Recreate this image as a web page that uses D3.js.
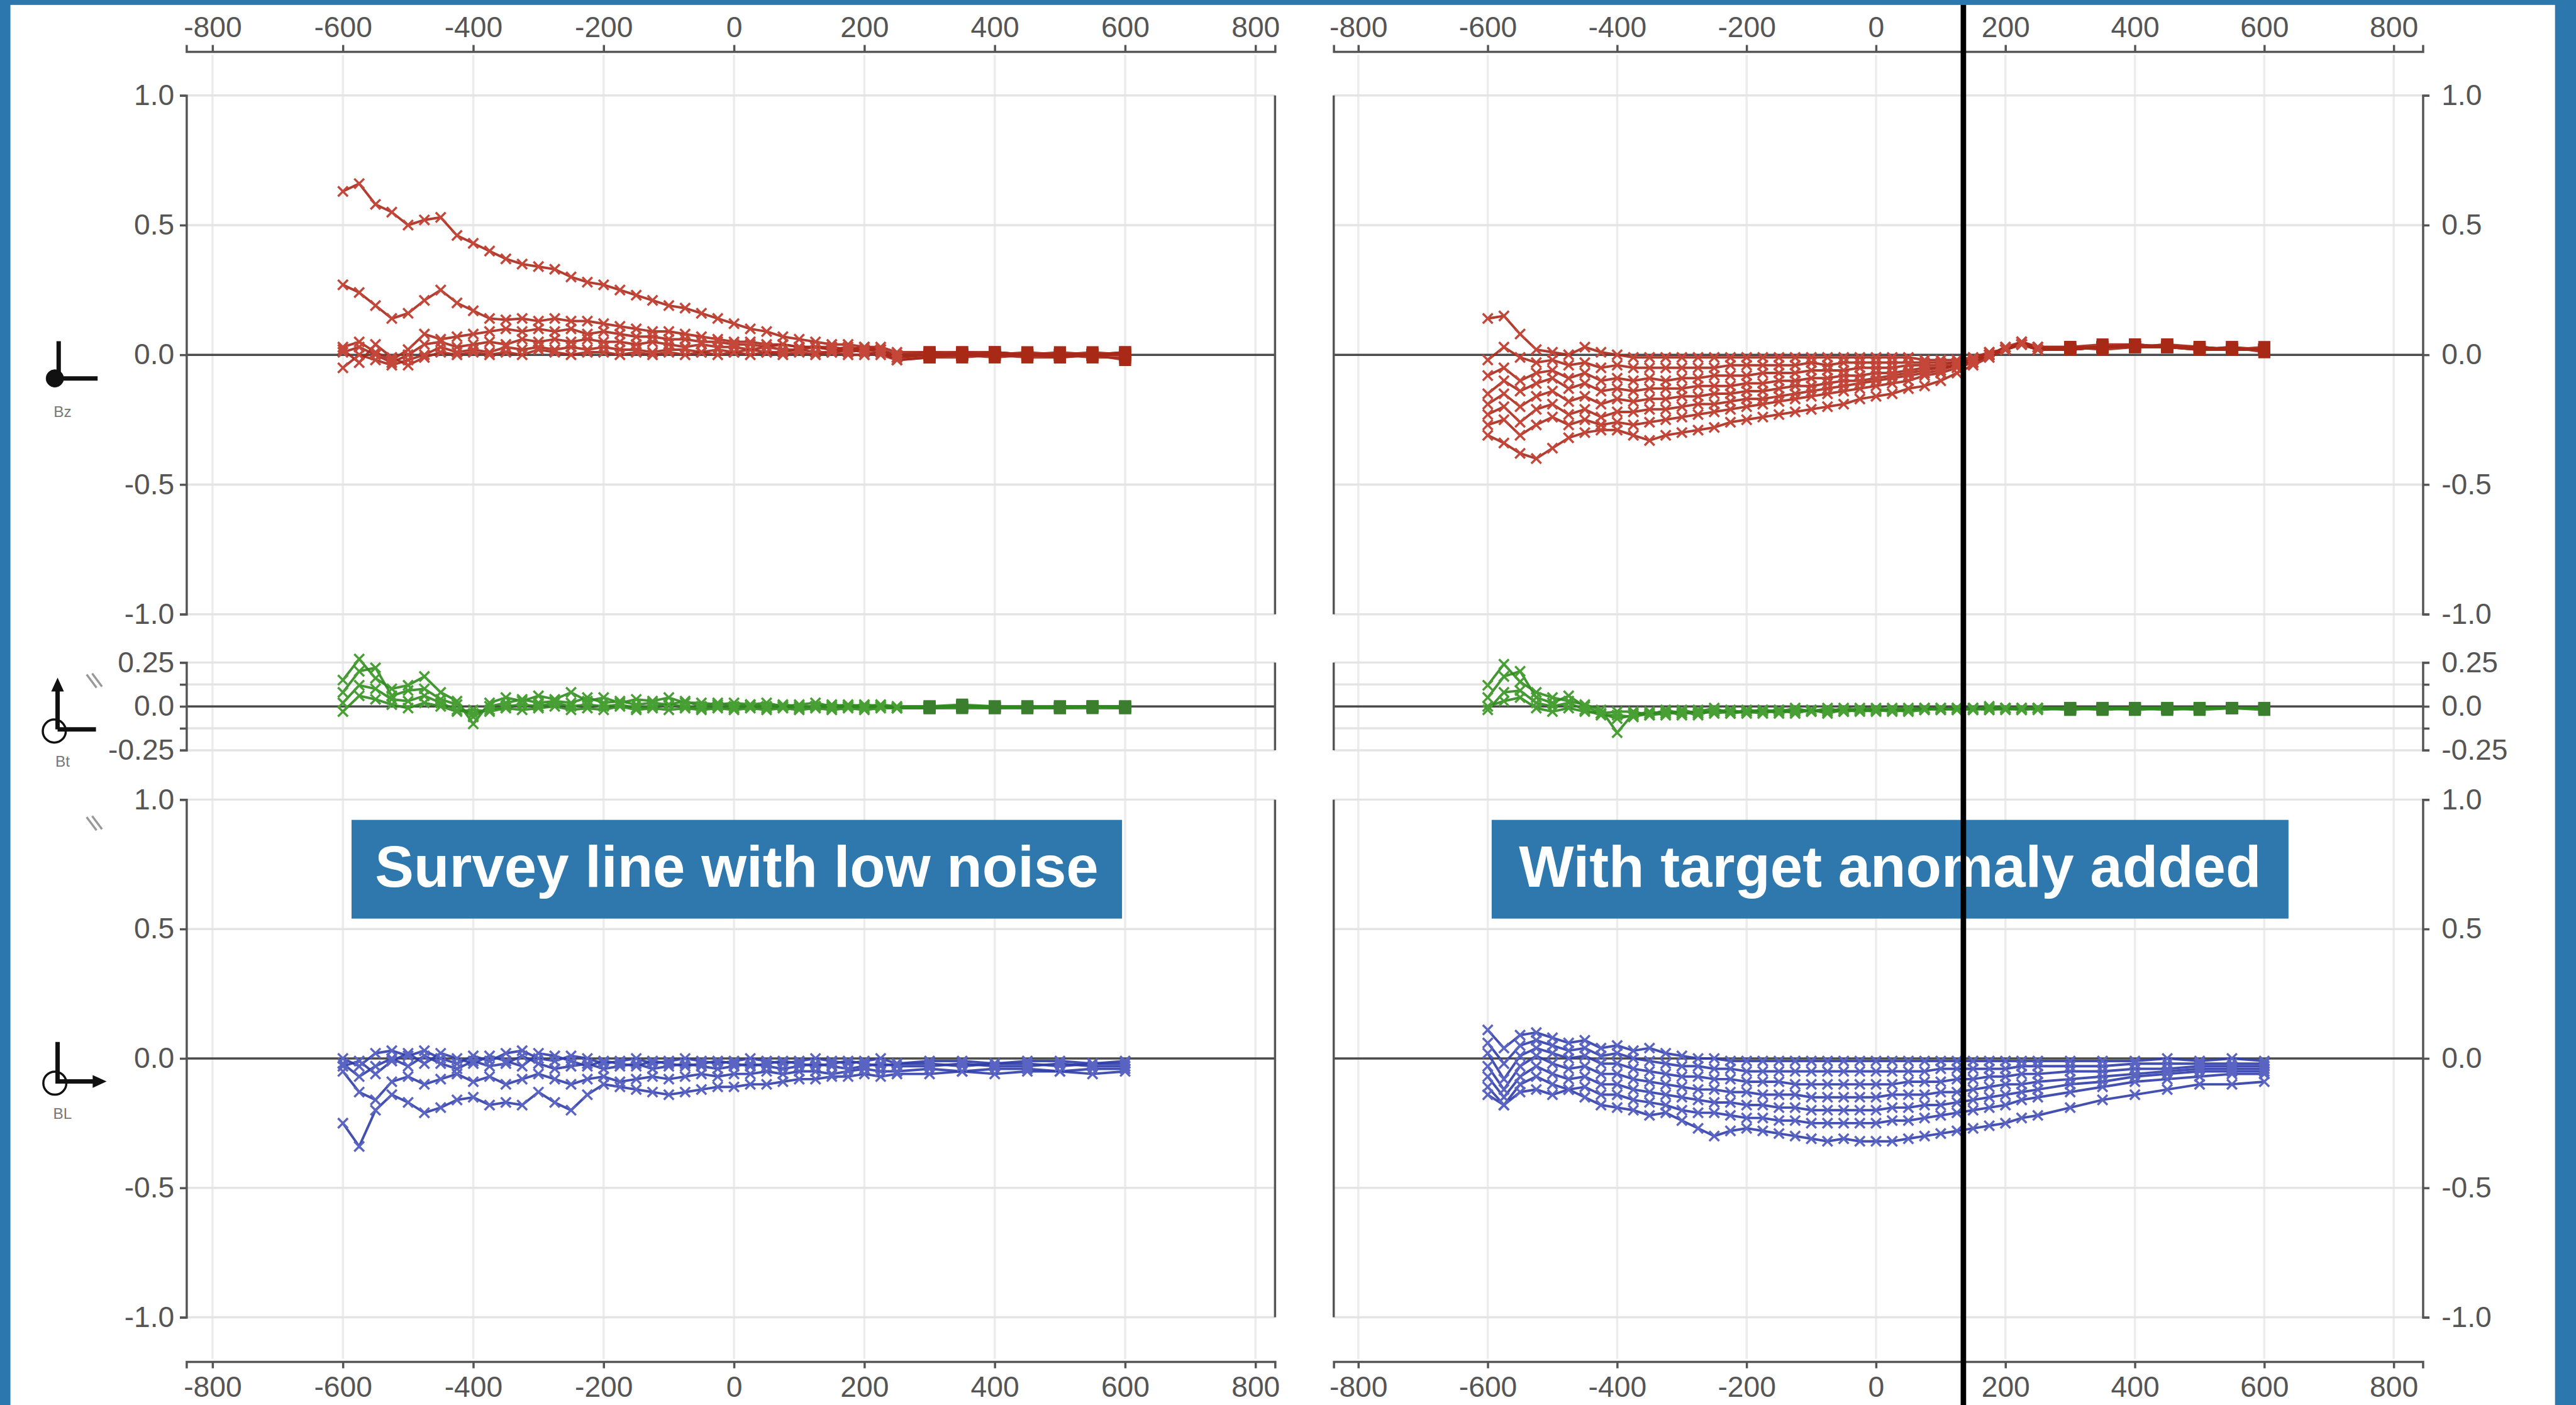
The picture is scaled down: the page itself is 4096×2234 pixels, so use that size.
<!DOCTYPE html>
<html>
<head>
<meta charset="utf-8">
<script src="https://cdnjs.cloudflare.com/ajax/libs/d3/7.8.5/d3.min.js"></script>
<style>
  body { margin: 0; background: #2c78ae; }
  svg { display: block; }
</style>
</head>
<body>
<svg id="chart"></svg>
<script>
// Station positions along the survey line (m)
const stations = [-600,-575,-550,-525,-500,-475,-450, -425,-400,-375,-350,-325,-300,-275,
  -250,-225,-200,-175,-150,-125,-100, -75,-50,-25,0,25,50,75,
  100,125,150,175,200,225,250, 300,350,400,450,500,550,600];

const xTicks = [-800, -600, -400, -200, 0, 200, 400, 600, 800];
const fieldTicks = [-1, -0.5, 0, 0.5, 1];
const tiltTicks = [-0.25, 0, 0.25];
const tiltMinorTicks = [-0.125, 0.125];

// Bz, survey line with low noise
const bzSurvey = [
  [0.63,0.66,0.58,0.55,0.50,0.52,0.53, 0.46,0.43,0.40,0.37,0.35,0.34,0.33, 0.30,0.28,0.27,0.25,0.23,0.21,0.19, 0.18,0.16,0.14,0.12,0.10,0.09,0.07, 0.06,0.05,0.04,0.04,0.03,0.03,0.01, 0.01,0.01,0.01,0.00,0.01,0.00,0.01],
  [0.27,0.24,0.19,0.14,0.16,0.21,0.25, 0.20,0.17,0.14,0.135,0.14,0.13,0.14, 0.13,0.13,0.12,0.11,0.10,0.09,0.09, 0.08,0.07,0.06,0.05,0.05,0.04,0.04, 0.03,0.03,0.03,0.02,0.03,0.02,0.00, 0.01,0.00,0.01,0.00,0.00,0.01,0.00],
  [0.03,0.05,0.01,-0.02,0.02,0.08,0.06, 0.07,0.08,0.09,0.10,0.09,0.10,0.09, 0.10,0.08,0.09,0.08,0.07,0.07,0.06, 0.06,0.05,0.05,0.04,0.04,0.03,0.04, 0.03,0.03,0.02,0.03,0.02,0.02,-0.01, 0.00,0.01,0.00,0.01,0.00,0.00,0.01],
  [0.01,0.03,0.00,-0.03,0.00,0.04,0.05, 0.03,0.04,0.05,0.04,0.06,0.05,0.06, 0.05,0.06,0.05,0.05,0.04,0.05,0.04, 0.03,0.04,0.03,0.03,0.02,0.03,0.02, 0.02,0.03,0.02,0.01,0.02,0.01,-0.01, 0.00,0.00,0.01,0.00,-0.01,0.00,0.00],
  [-0.05,0.00,-0.02,-0.04,-0.02,0.00,0.03, 0.01,0.02,0.01,0.03,0.02,0.03,0.02, 0.03,0.02,0.03,0.02,0.02,0.01,0.02, 0.02,0.01,0.02,0.01,0.02,0.01,0.01, 0.02,0.01,0.01,0.02,0.01,0.00,-0.02, -0.01,0.00,-0.01,0.00,0.00,-0.01,-0.01],
  [0.02,-0.03,0.04,-0.01,-0.04,-0.01,0.01, 0.00,0.01,0.00,0.01,0.00,0.02,0.01, 0.00,0.01,0.01,0.00,0.01,0.00,0.01, 0.00,0.01,0.00,0.01,0.00,0.01,0.00, 0.01,0.00,0.01,0.00,0.00,0.01,-0.02, -0.01,-0.01,0.00,-0.01,-0.01,0.00,-0.02]
];

// Bz, with target anomaly added
const bzTarget = [
  [0.14,0.15,0.08,0.02,0.01,0.00,0.03, 0.01,0.00,-0.01,-0.01,-0.01,-0.01,-0.01, -0.01,-0.01,-0.01,-0.01,-0.01,-0.01,-0.01, -0.01,-0.01,-0.01,-0.01,-0.01,-0.01,-0.02, -0.02,-0.02,-0.01,0.01,0.02,0.04,0.02, 0.02,0.03,0.04,0.03,0.03,0.02,0.02],
  [-0.02,0.03,-0.01,-0.03,-0.02,-0.04,-0.03, -0.05,-0.04,-0.05,-0.05,-0.05,-0.05,-0.05, -0.05,-0.04,-0.04,-0.04,-0.04,-0.04,-0.03, -0.04,-0.03,-0.03,-0.03,-0.03,-0.03,-0.03, -0.03,-0.03,-0.02,0.00,0.03,0.05,0.02, 0.03,0.02,0.03,0.04,0.02,0.03,0.01],
  [-0.08,-0.05,-0.10,-0.07,-0.06,-0.09,-0.07, -0.10,-0.09,-0.10,-0.09,-0.10,-0.09,-0.09, -0.08,-0.08,-0.08,-0.07,-0.07,-0.07,-0.06, -0.06,-0.06,-0.05,-0.05,-0.05,-0.04,-0.04, -0.04,-0.03,-0.02,0.01,0.02,0.04,0.03, 0.02,0.03,0.03,0.03,0.03,0.02,0.02],
  [-0.15,-0.10,-0.14,-0.11,-0.09,-0.13,-0.11, -0.14,-0.13,-0.14,-0.13,-0.13,-0.13,-0.12, -0.12,-0.12,-0.11,-0.11,-0.10,-0.10,-0.09, -0.09,-0.08,-0.08,-0.07,-0.07,-0.06,-0.05, -0.05,-0.04,-0.02,0.00,0.02,0.05,0.03, 0.03,0.04,0.04,0.03,0.02,0.03,0.02],
  [-0.19,-0.15,-0.20,-0.16,-0.14,-0.18,-0.16, -0.19,-0.17,-0.18,-0.17,-0.17,-0.16,-0.16, -0.15,-0.15,-0.14,-0.14,-0.13,-0.12,-0.12, -0.11,-0.10,-0.10,-0.09,-0.08,-0.07,-0.06, -0.05,-0.04,-0.03,0.00,0.03,0.04,0.02, 0.02,0.03,0.03,0.04,0.03,0.02,0.03],
  [-0.23,-0.20,-0.26,-0.21,-0.19,-0.23,-0.21, -0.24,-0.22,-0.22,-0.21,-0.21,-0.20,-0.19, -0.19,-0.18,-0.17,-0.17,-0.16,-0.15,-0.14, -0.13,-0.12,-0.11,-0.10,-0.09,-0.08,-0.07, -0.06,-0.04,-0.03,0.00,0.02,0.05,0.03, 0.03,0.03,0.04,0.03,0.03,0.02,0.02],
  [-0.27,-0.25,-0.31,-0.27,-0.24,-0.27,-0.25, -0.27,-0.26,-0.27,-0.26,-0.25,-0.24,-0.23, -0.22,-0.21,-0.20,-0.19,-0.18,-0.17,-0.16, -0.15,-0.14,-0.13,-0.12,-0.11,-0.10,-0.08, -0.07,-0.05,-0.03,0.00,0.02,0.04,0.02, 0.02,0.03,0.03,0.03,0.02,0.02,0.02],
  [-0.31,-0.34,-0.38,-0.40,-0.36,-0.32,-0.30, -0.29,-0.29,-0.31,-0.33,-0.31,-0.30,-0.29, -0.28,-0.26,-0.25,-0.24,-0.23,-0.22,-0.21, -0.20,-0.19,-0.17,-0.16,-0.15,-0.13,-0.12, -0.10,-0.07,-0.04,-0.01,0.02,0.04,0.02, 0.02,0.03,0.03,0.03,0.02,0.02,0.02]
];

// Bt (tilt), survey line
const btSurvey = [
  [0.15,0.27,0.16,0.10,0.12,0.17,0.08, 0.03,-0.10,0.02,0.05,0.03,0.06,0.04, 0.08,0.03,0.05,0.02,0.04,0.03,0.05, 0.02,0.02,0.01,0.02,0.01,0.02,0.00, 0.01,0.02,0.00,0.01,0.00,0.01,0.00, 0.00,0.01,0.00,0.00,0.00,0.00,0.00],
  [0.08,0.20,0.22,0.06,0.09,0.10,0.04, 0.01,-0.06,0.00,0.02,0.04,0.02,0.03, 0.02,0.05,0.02,0.03,0.01,0.02,0.01, 0.03,0.00,0.02,0.00,0.01,0.00,0.01, 0.00,0.00,0.01,0.00,0.01,0.00,-0.01, 0.00,0.00,0.00,-0.01,0.00,0.00,-0.01],
  [0.02,0.12,0.10,0.04,0.03,0.06,0.02, -0.02,-0.04,-0.02,0.00,0.01,0.00,0.02, 0.00,0.01,0.00,0.01,-0.01,0.00,0.01, 0.00,-0.01,0.00,-0.01,0.00,-0.01,0.00, -0.01,0.00,-0.01,0.00,-0.01,0.00,-0.01, -0.01,0.00,-0.01,0.00,-0.01,0.00,0.00],
  [-0.03,0.06,0.04,0.01,-0.01,0.02,0.00, -0.03,-0.02,-0.03,-0.01,-0.02,-0.01,0.00, -0.02,-0.01,-0.02,0.00,-0.02,-0.01,-0.02, -0.01,-0.02,-0.01,-0.02,-0.01,-0.02,-0.01, -0.02,-0.01,-0.02,-0.01,-0.02,-0.01,-0.01, -0.01,-0.01,-0.01,-0.01,-0.01,-0.01,-0.01]
];

// Bt, with target
const btTarget = [
  [0.12,0.24,0.14,0.08,0.05,0.03,0.01, -0.02,-0.15,-0.04,-0.05,-0.02,-0.04,-0.03, -0.01,-0.04,-0.02,-0.03,-0.02,-0.04,-0.02, -0.03,-0.01,-0.02,-0.03,-0.01,-0.02,-0.01, -0.02,-0.01,-0.02,0.00,-0.01,-0.02,-0.01, -0.02,-0.01,-0.01,-0.01,-0.01,-0.01,-0.01],
  [0.05,0.17,0.20,0.05,0.02,0.06,0.00, -0.04,-0.07,-0.05,-0.03,-0.05,-0.02,-0.04, -0.03,-0.02,-0.04,-0.02,-0.03,-0.01,-0.03, -0.02,-0.03,-0.01,-0.02,-0.02,-0.01,-0.02, -0.01,-0.02,-0.01,-0.02,-0.01,-0.01,-0.02, -0.01,-0.01,-0.02,-0.01,-0.01,-0.01,-0.02],
  [-0.02,0.08,0.09,0.02,0.00,0.02,-0.02, -0.05,-0.05,-0.06,-0.04,-0.03,-0.05,-0.02, -0.04,-0.03,-0.03,-0.04,-0.02,-0.03,-0.02, -0.04,-0.02,-0.03,-0.02,-0.03,-0.02,-0.01, -0.02,-0.01,-0.02,-0.01,-0.02,-0.01,-0.01, -0.01,-0.02,-0.01,-0.01,-0.02,-0.01,-0.01],
  [0.00,0.03,0.05,-0.01,-0.03,-0.01,-0.03, -0.04,-0.03,-0.03,-0.05,-0.04,-0.03,-0.05, -0.02,-0.04,-0.03,-0.02,-0.04,-0.02,-0.03, -0.01,-0.03,-0.02,-0.01,-0.02,-0.03,-0.02, -0.01,-0.02,-0.01,-0.02,-0.01,-0.02,-0.01, -0.01,-0.01,-0.01,-0.02,-0.01,-0.01,-0.01]
];

// BL (in-line), survey line
const blSurvey = [
  [-0.25,-0.34,-0.20,-0.14,-0.17,-0.21,-0.19, -0.16,-0.15,-0.18,-0.17,-0.18,-0.13,-0.17, -0.20,-0.14,-0.10,-0.11,-0.12,-0.13,-0.14, -0.13,-0.12,-0.11,-0.11,-0.10,-0.10,-0.09, -0.08,-0.08,-0.07,-0.07,-0.06,-0.07,-0.06, -0.06,-0.05,-0.06,-0.05,-0.05,-0.06,-0.05],
  [-0.05,-0.13,-0.16,-0.09,-0.07,-0.10,-0.08, -0.06,-0.09,-0.07,-0.10,-0.08,-0.06,-0.08, -0.10,-0.08,-0.07,-0.09,-0.08,-0.07,-0.08, -0.07,-0.06,-0.07,-0.06,-0.06,-0.05,-0.06, -0.05,-0.05,-0.06,-0.05,-0.04,-0.05,-0.05, -0.04,-0.05,-0.04,-0.04,-0.05,-0.04,-0.04],
  [-0.02,-0.07,-0.03,0.00,-0.03,0.01,-0.02, -0.04,-0.01,-0.03,-0.02,0.01,-0.02,-0.04, -0.03,-0.02,-0.04,-0.03,-0.02,-0.04,-0.03, -0.02,-0.03,-0.04,-0.03,-0.02,-0.03,-0.04, -0.03,-0.02,-0.03,-0.04,-0.03,-0.02,-0.03, -0.03,-0.02,-0.03,-0.03,-0.02,-0.03,-0.03],
  [0.00,-0.03,0.02,0.03,0.01,0.03,0.00, -0.02,0.01,-0.01,0.02,0.03,0.00,-0.01, 0.01,0.00,-0.02,-0.01,0.00,-0.02,-0.01, 0.00,-0.01,-0.02,-0.01,0.00,-0.01,-0.02, -0.01,0.00,-0.01,-0.02,-0.01,0.00,-0.02, -0.01,-0.01,-0.02,-0.01,-0.01,-0.02,-0.01],
  [-0.03,-0.01,-0.06,-0.01,0.02,-0.02,0.02, 0.00,-0.02,0.01,-0.01,-0.03,0.02,0.01, -0.01,-0.03,-0.01,-0.02,-0.03,-0.01,-0.02, -0.03,-0.02,-0.01,-0.02,-0.03,-0.02,-0.01, -0.02,-0.03,-0.02,-0.01,-0.02,-0.03,-0.02, -0.02,-0.03,-0.02,-0.02,-0.03,-0.02,-0.02]
];

// BL, with target
const blTarget = [
  [0.11,0.04,0.09,0.10,0.08,0.06,0.07, 0.04,0.05,0.03,0.04,0.02,0.01,0.00, 0.00,-0.01,-0.01,-0.01,-0.01,-0.01,-0.01, -0.01,-0.01,-0.01,-0.01,-0.01,-0.01,-0.01, -0.01,-0.01,-0.01,-0.01,-0.01,-0.01,-0.01, -0.01,-0.01,-0.01,0.00,-0.01,0.00,-0.01],
  [0.06,-0.02,0.05,0.07,0.05,0.03,0.04, 0.01,0.02,0.00,-0.01,-0.02,-0.03,-0.03, -0.04,-0.04,-0.05,-0.05,-0.05,-0.05,-0.05, -0.05,-0.05,-0.05,-0.05,-0.05,-0.05,-0.05, -0.04,-0.04,-0.04,-0.04,-0.04,-0.03,-0.03, -0.03,-0.03,-0.02,-0.02,-0.02,-0.02,-0.02],
  [0.02,-0.08,0.01,0.04,0.02,0.00,0.01, -0.02,-0.02,-0.04,-0.05,-0.06,-0.07,-0.07, -0.08,-0.08,-0.09,-0.09,-0.09,-0.10,-0.10, -0.10,-0.10,-0.10,-0.10,-0.10,-0.09,-0.09, -0.09,-0.08,-0.08,-0.07,-0.07,-0.06,-0.06, -0.05,-0.05,-0.04,-0.04,-0.03,-0.03,-0.03],
  [-0.03,-0.12,-0.03,0.01,-0.02,-0.04,-0.03, -0.06,-0.06,-0.08,-0.09,-0.10,-0.11,-0.12, -0.12,-0.13,-0.13,-0.14,-0.14,-0.14,-0.15, -0.15,-0.15,-0.15,-0.15,-0.14,-0.14,-0.14, -0.13,-0.13,-0.12,-0.11,-0.10,-0.10,-0.09, -0.08,-0.07,-0.06,-0.05,-0.04,-0.04,-0.04],
  [-0.07,-0.15,-0.07,-0.03,-0.06,-0.08,-0.07, -0.10,-0.10,-0.12,-0.13,-0.14,-0.15,-0.16, -0.17,-0.17,-0.18,-0.18,-0.19,-0.19,-0.20, -0.20,-0.20,-0.20,-0.20,-0.19,-0.19,-0.18, -0.18,-0.17,-0.16,-0.15,-0.14,-0.13,-0.12, -0.10,-0.09,-0.07,-0.06,-0.05,-0.05,-0.05],
  [-0.11,-0.18,-0.10,-0.07,-0.10,-0.12,-0.11, -0.14,-0.14,-0.16,-0.17,-0.18,-0.20,-0.21, -0.21,-0.22,-0.23,-0.23,-0.24,-0.24,-0.25, -0.25,-0.25,-0.25,-0.25,-0.24,-0.24,-0.23, -0.22,-0.21,-0.20,-0.19,-0.18,-0.16,-0.15, -0.13,-0.11,-0.09,-0.08,-0.07,-0.06,-0.06],
  [-0.14,-0.18,-0.13,-0.12,-0.14,-0.12,-0.15, -0.18,-0.19,-0.20,-0.22,-0.21,-0.24,-0.27, -0.30,-0.28,-0.27,-0.28,-0.29,-0.30,-0.31, -0.32,-0.31,-0.32,-0.32,-0.32,-0.31,-0.30, -0.29,-0.28,-0.27,-0.26,-0.25,-0.23,-0.22, -0.19,-0.16,-0.14,-0.12,-0.10,-0.10,-0.09]
];

const panelTitles = ['Survey line with low noise', 'With target anomaly added'];
const targetStation = 135;

// everything is laid out in reference pixels, then scaled down
const S = 0.872;
const W = 4697, H = 2562;
const FONT = '"Liberation Sans", Arial, Helvetica, sans-serif';

const minus = s => s.replace('\u2212', '-');

class ProfilePanel {

  constructor(_config, _series) {
    this.config = {
      parent: _config.parent,
      xScale: _config.xScale,
      yTop: _config.yTop,
      yBottom: _config.yBottom,
      yDomain: _config.yDomain,
      tickValues: _config.tickValues,
      minorTicks: _config.minorTicks || [],
      gridValues: _config.gridValues,
      axisSide: _config.axisSide,
      tickFormat: _config.tickFormat,
      colours: _config.colours,
      squares: _config.squares
    };
    this.series = _series;
    this.initVis();
  }

  initVis() {
    let vis = this;
    const [x0, x1] = vis.config.xScale.range();

    vis.yScale = d3.scaleLinear()
        .domain(vis.config.yDomain)
        .range([vis.config.yBottom, vis.config.yTop]);

    vis.chart = vis.config.parent.append('g');

    // light horizontal grid
    vis.chart.append('g').selectAll('line')
        .data(vis.config.gridValues)
        .join('line')
        .attr('x1', x0).attr('x2', x1)
        .attr('y1', d => vis.yScale(d)).attr('y2', d => vis.yScale(d))
        .attr('stroke', '#e4e4e4')
        .attr('stroke-width', 4);

    // zero line
    vis.chart.append('line')
        .attr('x1', x0).attr('x2', x1)
        .attr('y1', vis.yScale(0)).attr('y2', vis.yScale(0))
        .attr('stroke', '#4a4a4a')
        .attr('stroke-width', 4);

    // labelled axis on the outer side, plain frame line on the inner side
    const left = vis.config.axisSide === 'left';
    const axisX = left ? x0 : x1;
    const frameX = left ? x1 : x0;

    vis.yAxis = (left ? d3.axisLeft(vis.yScale) : d3.axisRight(vis.yScale))
        .tickValues(vis.config.tickValues)
        .tickFormat(vis.config.tickFormat)
        .tickSize(12)
        .tickSizeOuter(12)
        .tickPadding(left ? 10 : 22);

    vis.yAxisG = vis.chart.append('g')
        .attr('class', 'axis y-axis')
        .attr('transform', `translate(${axisX},0)`)
        .call(vis.yAxis);

    if (vis.config.minorTicks.length) {
      vis.chart.append('g')
          .attr('transform', `translate(${axisX},0)`)
          .call((left ? d3.axisLeft(vis.yScale) : d3.axisRight(vis.yScale))
              .tickValues(vis.config.minorTicks).tickFormat('').tickSize(12).tickSizeOuter(0))
          .call(g => g.select('.domain').remove())
          .attr('color', '#555')
          .selectAll('line').attr('stroke-width', 4);
    }

    styleAxis(vis.yAxisG);

    vis.chart.append('line')
        .attr('x1', frameX).attr('x2', frameX)
        .attr('y1', vis.config.yTop).attr('y2', vis.config.yBottom)
        .attr('stroke', '#555')
        .attr('stroke-width', 4);

    vis.renderVis();
  }

  renderVis() {
    let vis = this;
    const xs = vis.config.xScale;
    const c = vis.config.colours;

    const line = d3.line()
        .x((d, i) => xs(stations[i]))
        .y(d => vis.yScale(d));

    const g = vis.chart.append('g');

    g.selectAll('.trace')
        .data(vis.series)
        .join('path')
        .attr('class', 'trace')
        .attr('d', line)
        .attr('fill', 'none')
        .attr('stroke', c.line)
        .attr('stroke-opacity', 0.9)
        .attr('stroke-width', 4.5);

    const points = vis.series.flatMap(s => s.map((v, i) => ({ x: stations[i], v })));
    const sparse = d => vis.config.squares && d.x > 250;

    g.selectAll('.cross')
        .data(points.filter(d => !sparse(d)))
        .join('path')
        .attr('class', 'cross')
        .attr('transform', d => `translate(${xs(d.x)},${vis.yScale(d.v)})`)
        .attr('d', 'M-9,-9L9,9M-9,9L9,-9')
        .attr('fill', 'none')
        .attr('stroke', c.marker)
        .attr('stroke-width', 4);

    g.selectAll('.square')
        .data(points.filter(sparse))
        .join('rect')
        .attr('class', 'square')
        .attr('x', d => xs(d.x) - 11)
        .attr('y', d => vis.yScale(d.v) - 11)
        .attr('width', 22)
        .attr('height', 22)
        .attr('fill', c.square);
  }
}

function styleAxis(g) {
  g.attr('color', '#555')
      .attr('font-size', 53)
      .attr('font-family', FONT);
  g.selectAll('path, line').attr('stroke-width', 4);
}

const svg = d3.select('#chart')
    .attr('width', 4096)
    .attr('height', 2234);

const root = svg.append('g').attr('transform', `scale(${S})`);

root.append('rect').attr('width', W).attr('height', H).attr('fill', '#2c78ae');
root.append('rect').attr('x', 19).attr('y', 9).attr('width', 4640).attr('height', H - 9).attr('fill', '#fff');

const xLeft = d3.scaleLinear().domain([-840, 830]).range([340, 2325]);
const xRight = d3.scaleLinear().domain([-838, 845]).range([2432, 4418]);

const sides = [
  { x: xLeft, axisSide: 'left', data: [bzSurvey, btSurvey, blSurvey] },
  { x: xRight, axisSide: 'right', data: [bzTarget, btTarget, blTarget] }
];

const components = [
  { yTop: 174, yBottom: 1120, domain: [-1, 1], ticks: fieldTicks, minor: [], grid: [-1, -0.5, 0.5, 1],
    format: d => minus(d3.format('.1f')(d)),
    colours: { line: '#a8281a', marker: '#c4473a', square: '#a82a16' }, squares: true },
  { yTop: 1208, yBottom: 1368, domain: [-0.25, 0.25], ticks: tiltTicks, minor: tiltMinorTicks,
    grid: [-0.25, -0.125, 0.125, 0.25],
    format: d => d === 0 ? '0.0' : minus(d3.format('.2f')(d)),
    colours: { line: '#2f8a1e', marker: '#48a034', square: '#3b7f2e' }, squares: true },
  { yTop: 1458, yBottom: 2402, domain: [-1, 1], ticks: fieldTicks, minor: [], grid: [-1, -0.5, 0.5, 1],
    format: d => minus(d3.format('.1f')(d)),
    colours: { line: '#2f3ca8', marker: '#5a64c2', square: '#2f3ca8' }, squares: false }
];

// vertical grid and the shared top / bottom distance axes
sides.forEach(side => {
  root.append('g').selectAll('line')
      .data(xTicks)
      .join('line')
      .attr('x1', d => side.x(d)).attr('x2', d => side.x(d))
      .attr('y1', 100).attr('y2', 2478)
      .attr('stroke', '#ececec')
      .attr('stroke-width', 4);

  const top = root.append('g')
      .attr('class', 'axis x-axis')
      .attr('transform', 'translate(0,94)')
      .call(d3.axisTop(side.x).tickValues(xTicks).tickFormat(d => String(d))
          .tickSize(12).tickSizeOuter(12).tickPadding(14));
  styleAxis(top);

  const bottom = root.append('g')
      .attr('class', 'axis x-axis')
      .attr('transform', 'translate(0,2483)')
      .call(d3.axisBottom(side.x).tickValues(xTicks).tickFormat(d => String(d))
          .tickSize(12).tickSizeOuter(12).tickPadding(14));
  styleAxis(bottom);
});

// the six profile panels
sides.forEach(side => {
  components.forEach((comp, k) => {
    new ProfilePanel({
      parent: root,
      xScale: side.x,
      yTop: comp.yTop,
      yBottom: comp.yBottom,
      yDomain: comp.domain,
      tickValues: comp.ticks,
      minorTicks: comp.minor,
      gridValues: comp.grid,
      axisSide: side.axisSide,
      tickFormat: comp.format,
      colours: comp.colours,
      squares: comp.squares
    }, side.data[k]);
  });
});

// component glyphs at the far left
const icons = root.append('g').attr('stroke', '#111').attr('fill', 'none');
// Bz
icons.append('path').attr('d', 'M107,622V690H178').attr('stroke-width', 8);
icons.append('circle').attr('cx', 100).attr('cy', 690).attr('r', 16).attr('fill', '#111');
// Bt
icons.append('path').attr('d', 'M105,1330V1258M105,1330H175').attr('stroke-width', 8);
icons.append('path').attr('d', 'M95,1260L105,1238L115,1260Z').attr('fill', '#111').attr('stroke-width', 2);
icons.append('circle').attr('cx', 99).attr('cy', 1333).attr('r', 21).attr('stroke-width', 4);
// BL
icons.append('path').attr('d', 'M105,1900V1972H172').attr('stroke-width', 8);
icons.append('path').attr('d', 'M170,1962L192,1972L170,1982Z').attr('fill', '#111').attr('stroke-width', 2);
icons.append('circle').attr('cx', 100).attr('cy', 1975).attr('r', 21).attr('stroke-width', 4);

root.append('g')
    .attr('font-family', FONT)
    .attr('font-size', 28)
    .attr('fill', '#777')
    .attr('text-anchor', 'middle')
    .selectAll('text')
    .data([{ t: 'Bz', y: 760 }, { t: 'Bt', y: 1398 }, { t: 'BL', y: 2040 }])
    .join('text')
    .attr('x', 114)
    .attr('y', d => d.y)
    .text(d => d.t);

// axis-break marks
root.append('g')
    .attr('stroke', '#999')
    .attr('stroke-width', 4)
    .selectAll('path')
    .data([1244, 1504])
    .join('path')
    .attr('d', y => `M158,${y - 14}L176,${y + 10}M168,${y - 16}L186,${y + 8}`);

// panel captions
const boxes = [
  { x0: 641, x1: 2046 },
  { x0: 2720, x1: 4173 }
];
const caption = root.append('g');
caption.selectAll('rect')
    .data(boxes)
    .join('rect')
    .attr('x', d => d.x0)
    .attr('y', 1495)
    .attr('width', d => d.x1 - d.x0)
    .attr('height', 180)
    .attr('fill', '#2e78ae');
caption.selectAll('text')
    .data(boxes)
    .join('text')
    .attr('x', d => (d.x0 + d.x1) / 2)
    .attr('y', 1617)
    .attr('text-anchor', 'middle')
    .attr('font-family', FONT)
    .attr('font-weight', 'bold')
    .attr('font-size', 106)
    .attr('fill', '#fff')
    .text((d, i) => panelTitles[i]);

// target position marker
root.append('line')
    .attr('x1', xRight(targetStation)).attr('x2', xRight(targetStation))
    .attr('y1', 9).attr('y2', H)
    .attr('stroke', '#000')
    .attr('stroke-width', 10);
</script>
</body>
</html>
